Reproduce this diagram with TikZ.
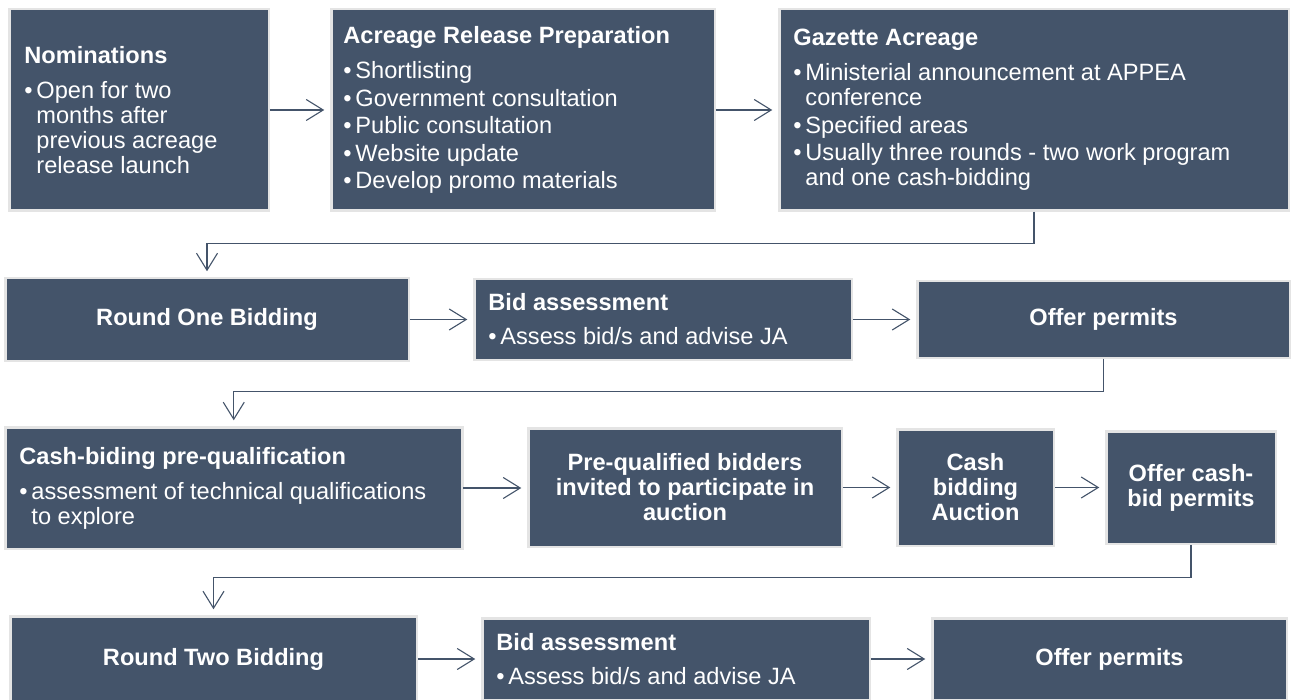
\documentclass[tikz,border=0pt]{standalone}
\usepackage{fontspec}
\setmainfont{Liberation Sans}
\usetikzlibrary{arrows.meta}
\definecolor{boxc}{HTML}{44546A}
\definecolor{bordc}{HTML}{E4E4E4}
\definecolor{arrc}{HTML}{44546A}
\newcommand{\bl}{\makebox[12pt][l]{•}}
\newcommand{\ind}{\hspace*{12pt}}
\tikzset{
  stepbox/.style={draw=bordc, line width=2.5pt, fill=boxc, inner sep=0pt, outer sep=0pt,
    text=white, font=\fontsize{23.6pt}{25pt}\selectfont\bfseries, align=center},
  txt/.style={text=white, inner sep=0pt, anchor=west, align=left,
    font=\fontsize{23.6pt}{25pt}\selectfont},
  conn/.style={draw=arrc, line width=1.1pt, -{Straight Barb[length=17pt,width=21pt]},
    shorten >=7pt, shorten <=1pt}
}
\begin{document}
\begin{tikzpicture}[x=1pt,y=-1pt]
\useasboundingbox[fill=white] (0,0) rectangle (1295,700);
% row 1
\node[stepbox, minimum width=259.5pt, minimum height=201.5pt] (nom) at (139,110) {};
\node[stepbox, minimum width=383.5pt, minimum height=201.5pt] (arp) at (523,110) {};
\node[stepbox, minimum width=509.5pt, minimum height=201.5pt] (gaz) at (1034,110) {};
\node[txt, xshift=15pt] (nomt) at (nom.west) {\textbf{Nominations}\\[10pt]
  \bl Open for two\\ \ind months after\\ \ind previous acreage\\ \ind release launch};
\node[txt, xshift=12pt] (arpt) at (arp.west) {\textbf{Acreage Release Preparation}\\[10pt]
  \bl Shortlisting\\[2.5pt] \bl Government consultation\\[2.5pt] \bl Public consultation\\[2.5pt]
  \bl Website update\\[2.5pt] \bl Develop promo materials};
\node[txt, xshift=14pt] (gazt) at (gaz.west) {\textbf{Gazette Acreage}\\[10pt]
  \bl Ministerial announcement at APPEA\\ \ind conference\\[2.5pt] \bl Specified areas\\[2.5pt]
  \bl Usually three rounds - two work program\\ \ind and one cash-bidding};
% row 2
\node[stepbox, minimum width=403.5pt, minimum height=82.5pt] (r1) at (207,319.5) {Round One Bidding};
\node[stepbox, minimum width=377.5pt, minimum height=80.5pt] (ba1) at (663,319.5) {};
\node[txt, xshift=14pt] (ba1t) at (ba1.west) {\textbf{Bid assessment}\\[9pt] \bl Assess bid/s and advise JA};
\node[stepbox, minimum width=372.5pt, minimum height=76.5pt] (op1) at (1103.5,319.5) {Offer permits};
% row 3
\node[stepbox, minimum width=457pt, minimum height=121.5pt] (cbp) at (233.75,488) {};
\node[txt, xshift=14pt] (cbpt) at (cbp.west) {\textbf{Cash-biding pre-qualification}\\[10pt]
  \bl assessment of technical qualifications\\ \ind to explore};
\node[stepbox, minimum width=313.5pt, minimum height=118.5pt] (pq) at (685,487.5)
  {Pre-qualified bidders\\invited to participate in\\auction};
\node[stepbox, minimum width=156.5pt, minimum height=116.5pt] (cba) at (975.5,487.5)
  {Cash\\bidding\\Auction};
\node[stepbox, minimum width=169.5pt, minimum height=112.5pt] (ocb) at (1191,487.5)
  {Offer cash-\\bid permits};
% row 4
\node[stepbox, minimum width=406.5pt, minimum height=85.5pt] (r2) at (213.5,659) {Round Two Bidding};
\node[stepbox, minimum width=387.5pt, minimum height=81.5pt] (ba2) at (676,659) {};
\node[txt, xshift=14pt] (ba2t) at (ba2.west) {\textbf{Bid assessment}\\[9pt] \bl Assess bid/s and advise JA};
\node[stepbox, minimum width=354.5pt, minimum height=81.5pt] (op2) at (1109.5,659) {Offer permits};
% connectors
\draw[conn] (nom.east) -- (arp.west);
\draw[conn] (arp.east) -- (gaz.west);
\draw[conn] (gaz.south) -- ++(0,33) -| (r1.north);
\draw[conn] (r1.east) -- (ba1.west);
\draw[conn] (ba1.east) -- (op1.west);
\draw[conn] (op1.south) -- ++(0,34) -| (cbp.north);
\draw[conn] (cbp.east) -- (cbp.east -| pq.west);
\draw[conn] (pq.east) -- (cba.west);
\draw[conn] (cba.east) -- (ocb.west);
\draw[conn] (ocb.south) -- ++(0,34) -| (r2.north);
\draw[conn] (r2.east) -- (r2.east -| ba2.west);
\draw[conn] (ba2.east) -- (op2.west);
\end{tikzpicture}
\end{document}
